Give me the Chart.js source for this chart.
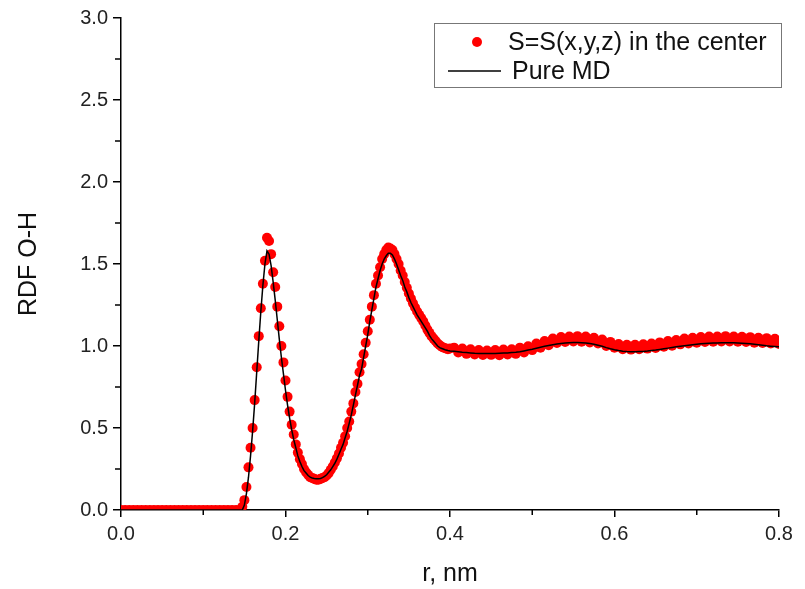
<!DOCTYPE html>
<html>
<head>
<meta charset="utf-8">
<script src="https://cdn.jsdelivr.net/npm/chart.js@4.4.1/dist/chart.umd.min.js"></script>
<style>
  html, body { margin: 0; padding: 0; background: #fff; }
  #wrap { width: 805px; height: 589px; position: relative; }
</style>
</head>
<body>
<div id="wrap"><canvas id="rdf"></canvas></div>
<script>
// r, nm -- flat zero part, fine grid over the two peaks, coarser tail
const rFlat = [0, 0.005, 0.01, 0.015, 0.02, 0.025, 0.03, 0.035, 0.04, 0.045,
  0.05, 0.055, 0.06, 0.065, 0.07, 0.075, 0.08, 0.085, 0.09, 0.095,
  0.1, 0.105, 0.11, 0.115, 0.12, 0.125, 0.13, 0.135, 0.14];
const rPeaks = [0.145, 0.1475, 0.15, 0.1525, 0.155, 0.1575, 0.16, 0.1625, 0.165, 0.1675,
  0.17, 0.1725, 0.175, 0.1775, 0.18, 0.1825, 0.185, 0.1875, 0.19, 0.1925,
  0.195, 0.1975, 0.2, 0.2025, 0.205, 0.2075, 0.21, 0.2125, 0.215, 0.2175,
  0.22, 0.2225, 0.225, 0.2275, 0.23, 0.2325, 0.235, 0.2375, 0.24, 0.2425,
  0.245, 0.2475, 0.25, 0.2525, 0.255, 0.2575, 0.26, 0.2625, 0.265, 0.2675,
  0.27, 0.2725, 0.275, 0.2775, 0.28, 0.2825, 0.285, 0.2875, 0.29, 0.2925,
  0.295, 0.2975, 0.3, 0.3025, 0.305, 0.3075, 0.31, 0.3125, 0.315, 0.3175,
  0.32, 0.3225, 0.325, 0.3275, 0.33, 0.3325, 0.335, 0.3375, 0.34, 0.3425,
  0.345, 0.3475, 0.35, 0.3525, 0.355, 0.3575, 0.36, 0.3625, 0.365, 0.3675,
  0.37, 0.3725, 0.375, 0.3775, 0.38, 0.3825, 0.385, 0.3875, 0.39, 0.3925,
  0.395, 0.3975, 0.4];
const rTail = [0.405, 0.41, 0.415, 0.42, 0.425, 0.43, 0.435, 0.44, 0.445, 0.45,
  0.455, 0.46, 0.465, 0.47, 0.475, 0.48, 0.485, 0.49, 0.495, 0.5,
  0.505, 0.51, 0.515, 0.52, 0.525, 0.53, 0.535, 0.54, 0.545, 0.55,
  0.555, 0.56, 0.565, 0.57, 0.575, 0.58, 0.585, 0.59, 0.595, 0.6,
  0.605, 0.61, 0.615, 0.62, 0.625, 0.63, 0.635, 0.64, 0.645, 0.65,
  0.655, 0.66, 0.665, 0.67, 0.675, 0.68, 0.685, 0.69, 0.695, 0.7,
  0.705, 0.71, 0.715, 0.72, 0.725, 0.73, 0.735, 0.74, 0.745, 0.75,
  0.755, 0.76, 0.765, 0.77, 0.775, 0.78, 0.785, 0.79, 0.795, 0.8];

// S=S(x,y,z) in the center (red dots)
const sFlat = [0, 0, 0, 0, 0, 0, 0, 0, 0, 0,
  0, 0, 0, 0, 0, 0, 0, 0, 0, 0,
  0, 0, 0, 0, 0, 0, 0, 0, 0];
const sPeaks = [0, 0.02, 0.06, 0.14, 0.26, 0.38, 0.50, 0.67, 0.87, 1.06,
  1.23, 1.38, 1.52, 1.66, 1.64, 1.56, 1.45, 1.36, 1.24, 1.12,
  1.00, 0.90, 0.79, 0.69, 0.60, 0.52, 0.46, 0.40, 0.35, 0.31,
  0.28, 0.25, 0.23, 0.215, 0.20, 0.195, 0.19, 0.185, 0.185, 0.19,
  0.195, 0.20, 0.21, 0.225, 0.245, 0.265, 0.29, 0.315, 0.345, 0.38,
  0.41, 0.45, 0.50, 0.54, 0.60, 0.65, 0.72, 0.77, 0.84, 0.89,
  0.95, 1.02, 1.09, 1.16, 1.24, 1.31, 1.38, 1.43, 1.48, 1.53,
  1.56, 1.585, 1.60, 1.595, 1.585, 1.56, 1.53, 1.50, 1.46, 1.43,
  1.39, 1.355, 1.32, 1.29, 1.26, 1.235, 1.21, 1.19, 1.17, 1.15,
  1.125, 1.10, 1.08, 1.06, 1.045, 1.03, 1.015, 1.005, 0.995, 0.99,
  0.985, 0.98, 0.985];
const sTail = [0.99, 0.96, 0.985, 0.952, 0.98, 0.948, 0.975, 0.945, 0.972, 0.946,
  0.975, 0.944, 0.978, 0.948, 0.98, 0.952, 0.99, 0.96, 0.998, 0.975,
  1.015, 0.99, 1.03, 1.005, 1.045, 1.018, 1.055, 1.025, 1.058, 1.028,
  1.06, 1.026, 1.058, 1.022, 1.05, 1.015, 1.04, 1.0, 1.025, 0.99,
  1.012, 0.98, 1.008, 0.978, 1.008, 0.98, 1.01, 0.984, 1.015, 0.988,
  1.022, 0.995, 1.03, 1.002, 1.036, 1.01, 1.045, 1.015, 1.05, 1.02,
  1.055, 1.024, 1.058, 1.026, 1.058, 1.027, 1.06, 1.028, 1.058, 1.026,
  1.056, 1.024, 1.054, 1.02, 1.05, 1.018, 1.048, 1.015, 1.044, 1.012];

// Pure MD (black line)
const mdFlat = [0, 0, 0, 0, 0, 0, 0, 0, 0, 0,
  0, 0, 0, 0, 0, 0, 0, 0, 0, 0,
  0, 0, 0, 0, 0, 0, 0, 0, 0];
const mdPeaks = [0, 0, 0.03, 0.10, 0.20, 0.33, 0.48, 0.65, 0.84, 1.03,
  1.21, 1.37, 1.50, 1.58, 1.56, 1.49, 1.39, 1.28, 1.16, 1.04,
  0.93, 0.83, 0.73, 0.64, 0.56, 0.49, 0.43, 0.38, 0.33, 0.295,
  0.265, 0.24, 0.225, 0.21, 0.20, 0.195, 0.192, 0.19, 0.19, 0.192,
  0.197, 0.205, 0.215, 0.23, 0.245, 0.265, 0.285, 0.31, 0.34, 0.37,
  0.40, 0.44, 0.48, 0.53, 0.58, 0.64, 0.70, 0.76, 0.82, 0.86,
  0.93, 1.00, 1.07, 1.15, 1.22, 1.29, 1.36, 1.41, 1.46, 1.50,
  1.53, 1.55, 1.565, 1.565, 1.555, 1.53, 1.50, 1.465, 1.43, 1.40,
  1.36, 1.33, 1.295, 1.265, 1.24, 1.215, 1.19, 1.17, 1.15, 1.13,
  1.11, 1.09, 1.065, 1.045, 1.03, 1.015, 1.0, 0.99, 0.985, 0.98,
  0.975, 0.972, 0.97];
const mdTail = [0.968, 0.965, 0.962, 0.96, 0.958, 0.956, 0.955, 0.955, 0.954, 0.955,
  0.955, 0.956, 0.957, 0.958, 0.96, 0.962, 0.965, 0.97, 0.975, 0.98,
  0.986, 0.992, 0.998, 1.003, 1.008, 1.012, 1.015, 1.018, 1.02, 1.021,
  1.021, 1.02, 1.018, 1.015, 1.01, 1.005, 0.998, 0.99, 0.983, 0.977,
  0.972, 0.968, 0.966, 0.965, 0.965, 0.966, 0.967, 0.969, 0.972, 0.975,
  0.979, 0.983, 0.987, 0.991, 0.995, 0.999, 1.002, 1.005, 1.008, 1.011,
  1.013, 1.015, 1.017, 1.018, 1.019, 1.02, 1.02, 1.02, 1.02, 1.019,
  1.017, 1.015, 1.013, 1.01, 1.007, 1.004, 1.001, 0.999, 0.997, 0.995];

const seriesLabels = ['S=S(x,y,z) in the center', 'Pure MD'];

const r = rFlat.concat(rPeaks, rTail);
const sVals = sFlat.concat(sPeaks, sTail);
const mdVals = mdFlat.concat(mdPeaks, mdTail);
const toXY = vals => r.map((x, i) => ({ x, y: vals[i] }));

const FONT = "'Liberation Sans', Arial, sans-serif";

// short minor ticks halfway between the major ones
const minorTicks = {
  id: 'minorTicks',
  afterDraw(chart) {
    const { ctx, scales: { x, y } } = chart;
    ctx.save();
    ctx.strokeStyle = '#000';
    ctx.lineWidth = 1.5;
    ctx.beginPath();
    for (let i = 0; i < x.ticks.length - 1; i++) {
      const px = x.getPixelForValue((x.ticks[i].value + x.ticks[i + 1].value) / 2);
      ctx.moveTo(px, x.top);
      ctx.lineTo(px, x.top + 5);
    }
    for (let i = 0; i < y.ticks.length - 1; i++) {
      const py = y.getPixelForValue((y.ticks[i].value + y.ticks[i + 1].value) / 2);
      ctx.moveTo(y.right, py);
      ctx.lineTo(y.right - 6, py);
    }
    ctx.stroke();
    ctx.restore();
  }
};

// framed legend in the top right corner of the plot
const boxedLegend = {
  id: 'boxedLegend',
  afterDraw(chart) {
    const { ctx, chartArea } = chart;
    const left = chartArea.right - 345, top = chartArea.top + 5;
    const s = chart.data.datasets[0], md = chart.data.datasets[1];
    ctx.save();
    ctx.strokeStyle = '#777';
    ctx.lineWidth = 1;
    ctx.strokeRect(left + 0.5, top + 0.5, 347, 64);

    ctx.fillStyle = s.pointBackgroundColor;
    ctx.beginPath();
    ctx.arc(left + 43, top + 19, 5, 0, Math.PI * 2);
    ctx.fill();

    ctx.strokeStyle = md.borderColor;
    ctx.lineWidth = 1.5;
    ctx.beginPath();
    ctx.moveTo(left + 14, top + 48);
    ctx.lineTo(left + 67, top + 48);
    ctx.stroke();

    ctx.fillStyle = '#111';
    ctx.font = '25px ' + FONT;
    ctx.textBaseline = 'middle';
    ctx.fillText(s.label, left + 74, top + 20);
    ctx.fillText(md.label, left + 78, top + 49);
    ctx.restore();
  }
};

new Chart(document.getElementById('rdf'), {
  type: 'line',
  data: {
    datasets: [
      {
        label: seriesLabels[0],
        data: toXY(sVals),
        showLine: false,
        pointRadius: 5,
        pointBorderWidth: 0,
        pointBackgroundColor: '#ff0000',
        backgroundColor: '#ff0000',
        order: 1
      },
      {
        label: seriesLabels[1],
        data: toXY(mdVals),
        borderColor: '#000000',
        borderWidth: 1.5,
        pointRadius: 0,
        tension: 0,
        order: 0
      }
    ]
  },
  options: {
    responsive: true,
    maintainAspectRatio: false,
    animation: false,
    layout: { padding: { top: 18, right: 26, left: 0, bottom: 0 } },
    scales: {
      x: {
        type: 'linear',
        min: 0,
        max: 0.8,
        afterFit: s => { s.height = 79; },
        border: { color: '#000', width: 1.5 },
        grid: { drawOnChartArea: false, drawTicks: true, tickLength: 7, color: '#000', lineWidth: 1.5 },
        ticks: {
          stepSize: 0.2,
          padding: 5,
          color: '#222',
          font: { family: FONT, size: 20 },
          callback: v => v.toFixed(1)
        },
        title: {
          display: true,
          text: 'r, nm',
          color: '#111',
          font: { family: FONT, size: 25 },
          padding: { top: 4, bottom: 0 }
        }
      },
      y: {
        min: 0,
        max: 3,
        afterFit: s => { s.width = 121; },
        border: { color: '#000', width: 1.5 },
        grid: { drawOnChartArea: false, drawTicks: true, tickLength: 8, color: '#000', lineWidth: 1.5 },
        ticks: {
          stepSize: 0.5,
          padding: 5,
          color: '#222',
          font: { family: FONT, size: 20 },
          callback: v => v.toFixed(1)
        },
        title: {
          display: true,
          text: 'RDF O-H',
          color: '#111',
          font: { family: FONT, size: 25 },
          padding: { top: 14, bottom: 0 }
        }
      }
    },
    plugins: {
      legend: { display: false },
      tooltip: { enabled: false }
    }
  },
  plugins: [minorTicks, boxedLegend]
});
</script>
</body>
</html>
